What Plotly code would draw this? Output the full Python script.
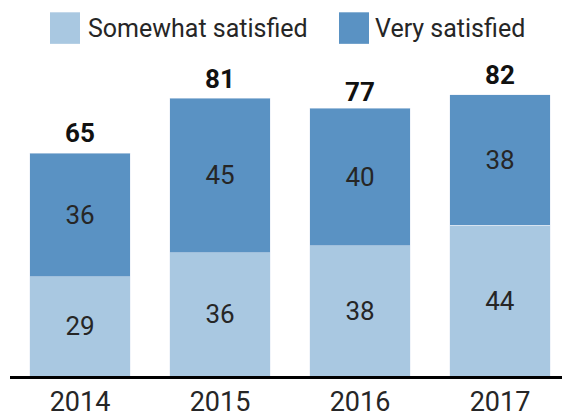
import plotly.graph_objects as go

years = ["2014", "2015", "2016", "2017"]
somewhat = [29, 36, 38, 44]
very = [36, 45, 40, 38]
totals = [65, 81, 77, 82]

light = "#a9c8e1"
dark = "#5a92c3"
font_family = "Roboto, Arial"

W, H = 562, 418
ML, MR, MT, MB = 10, 0, 33, 37
PW, PH = W - ML - MR, H - MT - MB

fig = go.Figure()
fig.add_trace(go.Bar(x=years, y=somewhat, name="Somewhat satisfied", marker_color=light,
                     text=[str(v) for v in somewhat], textposition="inside",
                     insidetextanchor="middle", textangle=0,
                     textfont=dict(size=26, color="#262626", family=font_family)))
fig.add_trace(go.Bar(x=years, y=very, name="Very satisfied", marker_color=dark,
                     text=[str(v) for v in very], textposition="inside",
                     insidetextanchor="middle", textangle=0,
                     textfont=dict(size=26, color="#262626", family=font_family)))
fig.add_trace(go.Scatter(x=years, y=totals, mode="markers+text", text=[str(v) for v in totals],
                         texttemplate="<b>%{text}</b>", textposition="top center",
                         marker=dict(size=5, color="rgba(0,0,0,0)"),
                         cliponaxis=False, hoverinfo="skip",
                         textfont=dict(size=26, color="#111111", family=font_family)))

# custom legend (paper coords computed from pixel layout)
def px_x(p):
    return (p - ML) / PW

def px_y(p):
    return (H - MB - p) / PH

legend_items = [("Somewhat satisfied", light, 50, 80, 86), ("Very satisfied", dark, 339, 369, 373)]
shapes = []
annotations = []
for label, col, x0, x1, tx in legend_items:
    shapes.append(dict(type="rect", xref="paper", yref="paper",
                       x0=px_x(x0), x1=px_x(x1), y0=px_y(44), y1=px_y(12),
                       fillcolor=col, line_width=0))
    annotations.append(dict(text=label, xref="paper", yref="paper",
                            x=px_x(tx), y=px_y(28),
                            xanchor="left", yanchor="middle", showarrow=False,
                            font=dict(size=25, color="#262626", family=font_family)))

fig.update_layout(
    barmode="stack", bargap=0.282,
    width=W, height=H,
    margin=dict(l=ML, r=MR, t=MT, b=MB),
    paper_bgcolor="white", plot_bgcolor="white",
    showlegend=False,
    shapes=shapes, annotations=annotations,
)
fig.update_xaxes(type="category", range=[-0.5, -0.5 + PW / 140], showline=True, linecolor="black",
                 linewidth=2.5, ticks="", showgrid=False,
                 tickfont=dict(size=27, color="#262626", family=font_family))
fig.update_yaxes(range=[0, 100], visible=False, showgrid=False)

fig.write_html("out.html")
